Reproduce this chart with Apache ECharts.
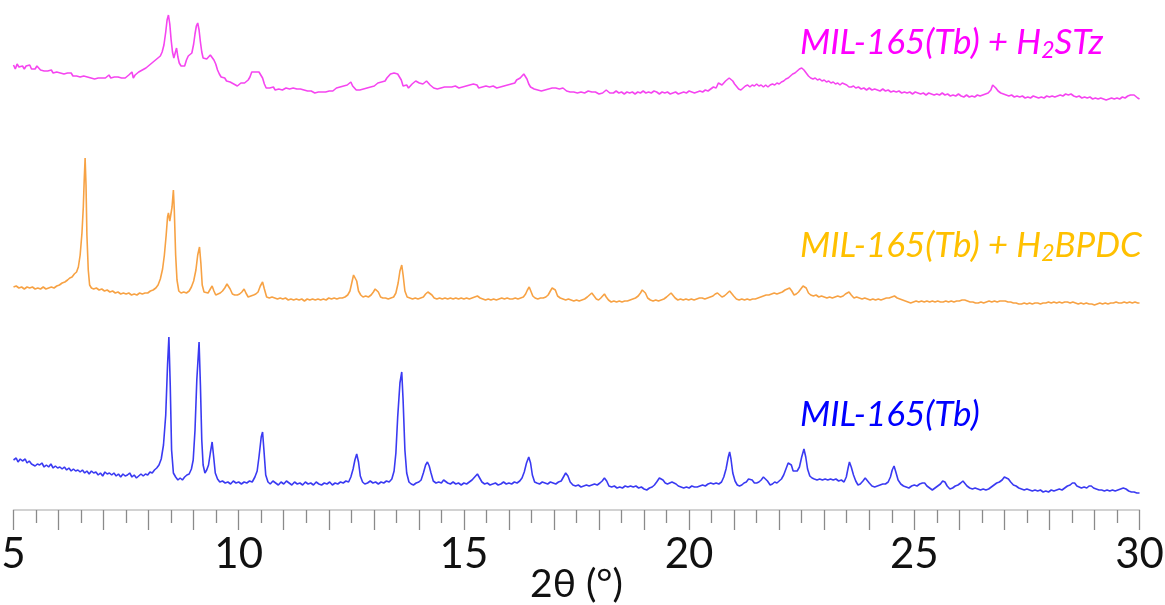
<!DOCTYPE html>
<html>
<head>
<meta charset="utf-8">
<script src="https://cdn.jsdelivr.net/npm/echarts@6/dist/echarts.min.js"></script>
<style>
  html, body { margin: 0; padding: 0; background: #fff; }
  #chart { width: 1165px; height: 605px; }
</style>
</head>
<body>
<div id="chart"></div>
<script>
// Powder XRD patterns: [2θ (°), intensity (a.u.)]
const tbPattern = [
  [5.00,35],[5.06,37],[5.10,33],[5.15,36],[5.20,34],[5.26,36],[5.30,32],[5.35,34],[5.40,31],[5.44,33],
  [5.48,29],[5.53,31],[5.58,30],[5.63,32],[5.68,28],[5.73,30],[5.78,28],[5.83,31],[5.88,27],[5.93,29],
  [5.98,27],[6.03,28],[6.08,26],[6.13,28],[6.18,25],[6.23,27],[6.28,24],[6.33,26],[6.38,24],[6.43,25],
  [6.48,23],[6.53,25],[6.58,22],[6.63,24],[6.68,21],[6.73,24],[6.78,22],[6.83,23],[6.88,20],[6.93,22],
  [6.98,19],[7.03,23],[7.08,21],[7.13,22],[7.18,20],[7.23,22],[7.28,19],[7.33,21],[7.38,18],[7.43,21],
  [7.48,19],[7.53,20],[7.58,22],[7.63,18],[7.68,20],[7.73,17],[7.78,19],[7.83,21],[7.88,19],[7.93,21],
  [7.98,20],[8.03,23],[8.08,22],[8.13,25],[8.18,27],[8.23,30],[8.28,36],[8.33,50],[8.38,80],[8.42,130],
  [8.45,158],[8.48,110],[8.51,45],[8.55,22],[8.60,18],[8.65,15],[8.70,17],[8.75,15],[8.80,18],[8.85,20],
  [8.90,21],[8.95,26],[8.99,35],[9.03,65],[9.07,115],[9.12,153],[9.15,110],[9.18,55],[9.21,30],[9.25,22],
  [9.29,25],[9.33,30],[9.37,42],[9.41,53],[9.44,40],[9.48,22],[9.53,16],[9.58,13],[9.64,14],[9.70,12],
  [9.76,13],[9.82,11],[9.88,14],[9.94,12],[10.00,13],[10.06,11],[10.12,13],[10.18,12],[10.24,14],[10.30,13],
  [10.36,18],[10.41,24],[10.45,38],[10.50,58],[10.53,63],[10.56,45],[10.60,20],[10.65,13],[10.70,11],[10.76,14],
  [10.82,12],[10.88,10],[10.94,13],[11.00,11],[11.06,14],[11.12,12],[11.18,10],[11.24,13],[11.30,11],[11.36,12],
  [11.42,10],[11.48,13],[11.54,11],[11.60,12],[11.66,10],[11.72,13],[11.78,11],[11.84,10],[11.90,12],[11.96,11],
  [12.02,13],[12.08,10],[12.14,12],[12.20,11],[12.26,13],[12.32,12],[12.38,14],[12.44,13],[12.49,18],[12.54,26],
  [12.58,35],[12.62,41],[12.66,33],[12.70,19],[12.75,13],[12.80,11],[12.86,12],[12.92,14],[12.98,12],[13.04,13],
  [13.10,11],[13.16,13],[13.22,12],[13.28,14],[13.34,13],[13.40,16],[13.45,24],[13.49,42],[13.53,78],[13.58,112],
  [13.62,123],[13.65,95],[13.69,45],[13.73,22],[13.78,13],[13.83,11],[13.88,10],[13.94,12],[14.00,13],[14.05,15],
  [14.10,22],[14.15,30],[14.19,33],[14.23,29],[14.27,22],[14.32,14],[14.38,12],[14.44,13],[14.50,12],[14.55,15],
  [14.59,17],[14.64,12],[14.70,11],[14.76,13],[14.82,11],[14.88,12],[14.94,10],[15.00,12],[15.06,11],[15.12,13],
  [15.18,15],[15.24,18],[15.30,21],[15.35,17],[15.40,13],[15.46,11],[15.52,12],[15.58,10],[15.64,11],[15.70,12],
  [15.76,10],[15.82,11],[15.88,13],[15.94,11],[16.00,12],[16.06,11],[16.12,13],[16.18,12],[16.24,14],[16.29,17],
  [16.34,23],[16.39,32],[16.44,38],[16.48,32],[16.52,20],[16.57,13],[16.62,12],[16.68,11],[16.74,13],[16.80,12],
  [16.86,11],[16.92,13],[16.98,12],[17.04,11],[17.10,13],[17.16,14],[17.21,18],[17.26,22],[17.31,19],[17.36,13],
  [17.42,10],[17.48,9],[17.54,10],[17.60,8],[17.66,9],[17.72,10],[17.78,9],[17.84,10],[17.90,11],[17.96,10],
  [18.02,12],[18.07,14],[18.12,17],[18.17,14],[18.22,9],[18.28,8],[18.34,9],[18.40,7],[18.46,8],[18.52,7],
  [18.58,9],[18.64,8],[18.70,9],[18.76,8],[18.82,9],[18.88,7],[18.94,8],[19.00,6],[19.06,5],[19.12,7],
  [19.18,8],[19.23,10],[19.28,13],[19.34,17],[19.38,18],[19.42,15],[19.47,12],[19.52,11],[19.57,12],[19.62,13],
  [19.66,14],[19.71,11],[19.76,9],[19.82,8],[19.88,7],[19.94,8],[20.00,7],[20.06,9],[20.12,8],[20.18,8],
  [20.24,9],[20.30,10],[20.36,9],[20.42,11],[20.48,12],[20.54,11],[20.60,12],[20.66,11],[20.72,13],[20.77,18],
  [20.82,26],[20.87,38],[20.90,43],[20.93,36],[20.97,22],[21.02,14],[21.07,10],[21.12,9],[21.17,10],[21.22,12],
  [21.27,13],[21.32,16],[21.36,18],[21.40,15],[21.45,12],[21.50,12],[21.55,13],[21.60,15],[21.65,18],[21.69,19],
  [21.74,14],[21.80,10],[21.85,11],[21.90,13],[21.95,12],[22.00,14],[22.05,16],[22.10,20],[22.15,26],[22.20,32],
  [22.23,34],[22.27,30],[22.31,24],[22.35,22],[22.40,24],[22.45,28],[22.50,38],[22.55,46],[22.59,38],[22.63,26],
  [22.68,19],[22.73,17],[22.78,16],[22.84,15],[22.90,16],[22.96,15],[23.02,16],[23.08,15],[23.14,16],[23.20,15],
  [23.26,16],[23.32,14],[23.38,15],[23.44,13],[23.49,18],[23.53,27],[23.56,33],[23.60,28],[23.65,20],[23.70,14],
  [23.75,10],[23.80,11],[23.86,14],[23.91,17],[23.95,16],[24.00,12],[24.06,9],[24.12,8],[24.18,9],[24.24,10],
  [24.30,11],[24.36,11],[24.42,13],[24.47,18],[24.51,25],[24.55,29],[24.59,23],[24.64,15],[24.70,11],[24.76,9],
  [24.82,8],[24.88,7],[24.94,9],[25.00,10],[25.06,9],[25.12,11],[25.18,12],[25.23,12],[25.28,9],[25.34,7],
  [25.40,5],[25.46,7],[25.52,9],[25.58,11],[25.63,14],[25.68,13],[25.73,9],[25.79,6],[25.85,7],[25.91,9],
  [25.97,10],[26.03,12],[26.08,14],[26.12,13],[26.17,9],[26.23,7],[26.29,6],[26.35,7],[26.41,6],[26.47,5],
  [26.53,6],[26.59,5],[26.65,6],[26.71,8],[26.77,10],[26.83,12],[26.89,13],[26.95,15],[27.00,18],[27.04,19],
  [27.09,16],[27.14,13],[27.20,10],[27.26,9],[27.32,7],[27.38,6],[27.44,5],[27.50,6],[27.56,5],[27.62,4],
  [27.68,5],[27.74,4],[27.80,5],[27.86,3],[27.92,4],[27.98,3],[28.04,5],[28.10,4],[28.16,5],[28.22,6],
  [28.28,5],[28.34,7],[28.40,9],[28.46,10],[28.51,12],[28.56,12],[28.61,9],[28.66,8],[28.71,7],[28.77,8],
  [28.83,7],[28.88,9],[28.93,9],[28.98,7],[29.04,6],[29.10,5],[29.16,5],[29.22,4],[29.28,5],[29.34,4],
  [29.40,5],[29.46,4],[29.52,5],[29.58,6],[29.64,7],[29.70,6],[29.76,4],[29.82,3],[29.88,3],[29.94,2],[30.00,2]
];

const bpdcPattern = [
  [5.00,18],[5.06,19],[5.12,17],[5.18,18],[5.24,16],[5.30,18],[5.36,17],[5.42,18],[5.48,16],[5.54,17],
  [5.60,16],[5.66,18],[5.72,16],[5.78,17],[5.84,18],[5.90,17],[5.96,19],[6.02,20],[6.08,22],[6.14,23],
  [6.20,25],[6.25,27],[6.30,28],[6.35,31],[6.40,33],[6.44,38],[6.48,50],[6.52,72],[6.55,98],[6.57,125],
  [6.59,147],[6.61,120],[6.63,70],[6.66,35],[6.69,20],[6.73,17],[6.78,16],[6.84,17],[6.90,15],[6.96,16],
  [7.02,14],[7.08,15],[7.14,13],[7.20,14],[7.26,12],[7.32,13],[7.38,11],[7.44,12],[7.50,11],[7.56,12],
  [7.62,10],[7.68,11],[7.74,10],[7.80,12],[7.86,11],[7.92,12],[7.98,12],[8.04,14],[8.10,15],[8.16,17],
  [8.21,20],[8.26,26],[8.31,36],[8.35,50],[8.39,70],[8.42,88],[8.44,92],[8.47,84],[8.49,82],[8.52,98],
  [8.55,115],[8.57,95],[8.60,50],[8.63,25],[8.67,14],[8.72,12],[8.78,13],[8.84,12],[8.90,14],[8.95,18],
  [9.00,24],[9.05,35],[9.09,50],[9.13,58],[9.16,42],[9.19,20],[9.23,13],[9.27,11],[9.32,12],[9.37,16],
  [9.41,19],[9.45,14],[9.49,10],[9.54,11],[9.59,12],[9.64,14],[9.69,17],[9.74,21],[9.77,22],[9.81,16],
  [9.86,11],[9.91,10],[9.97,10],[10.02,11],[10.07,13],[10.12,16],[10.16,12],[10.21,8],[10.27,9],[10.33,10],
  [10.38,11],[10.43,13],[10.48,19],[10.53,23],[10.57,16],[10.62,8],[10.68,7],[10.74,8],[10.80,7],[10.86,6],
  [10.92,7],[10.98,6],[11.04,7],[11.10,5],[11.16,6],[11.22,5],[11.28,6],[11.34,5],[11.40,6],[11.46,4],
  [11.52,6],[11.58,5],[11.64,6],[11.70,5],[11.76,6],[11.82,5],[11.88,6],[11.94,5],[12.00,7],[12.06,6],
  [12.12,7],[12.18,6],[12.24,7],[12.30,7],[12.36,8],[12.42,10],[12.47,14],[12.51,22],[12.55,30],[12.58,32],
  [12.62,24],[12.66,14],[12.71,10],[12.76,8],[12.82,9],[12.88,8],[12.94,10],[12.99,13],[13.03,16],[13.06,17],
  [13.10,13],[13.15,8],[13.20,7],[13.26,7],[13.32,6],[13.38,7],[13.44,8],[13.49,12],[13.54,22],[13.58,34],
  [13.62,40],[13.65,30],[13.69,14],[13.74,8],[13.80,7],[13.86,6],[13.92,7],[13.98,6],[14.04,7],[14.10,8],
  [14.15,11],[14.20,13],[14.24,13],[14.29,10],[14.34,7],[14.40,6],[14.46,7],[14.52,6],[14.58,7],[14.64,6],
  [14.70,7],[14.76,6],[14.82,7],[14.88,6],[14.94,7],[15.00,6],[15.06,7],[15.12,6],[15.18,7],[15.24,8],
  [15.30,9],[15.36,7],[15.42,6],[15.48,5],[15.54,6],[15.60,5],[15.66,6],[15.72,5],[15.78,6],[15.84,7],
  [15.90,6],[15.96,7],[16.02,6],[16.08,6],[16.14,7],[16.20,6],[16.26,7],[16.32,8],[16.37,11],[16.41,15],
  [16.45,18],[16.49,16],[16.53,9],[16.58,7],[16.64,6],[16.70,7],[16.76,7],[16.82,8],[16.87,10],[16.92,14],
  [16.96,17],[16.99,18],[17.03,15],[17.08,9],[17.14,7],[17.20,6],[17.26,5],[17.32,6],[17.38,5],[17.44,4],
  [17.50,5],[17.56,4],[17.62,5],[17.68,6],[17.74,8],[17.79,10],[17.84,12],[17.89,9],[17.94,6],[17.99,5],
  [18.04,7],[18.08,9],[18.12,11],[18.16,8],[18.21,5],[18.27,3],[18.33,4],[18.39,3],[18.45,4],[18.51,3],
  [18.57,4],[18.63,4],[18.69,5],[18.75,6],[18.81,7],[18.87,9],[18.92,12],[18.96,15],[18.99,15],[19.03,12],
  [19.08,7],[19.14,5],[19.20,4],[19.26,5],[19.32,4],[19.38,5],[19.44,6],[19.50,8],[19.55,10],[19.60,12],
  [19.64,10],[19.69,7],[19.75,5],[19.81,6],[19.87,5],[19.93,6],[19.99,5],[20.05,6],[20.11,5],[20.17,6],
  [20.23,7],[20.29,7],[20.35,6],[20.41,7],[20.47,8],[20.53,9],[20.58,11],[20.63,12],[20.68,10],[20.73,8],
  [20.78,9],[20.83,11],[20.87,13],[20.90,14],[20.94,12],[20.99,9],[21.05,6],[21.11,5],[21.17,6],[21.23,5],
  [21.29,6],[21.35,5],[21.41,6],[21.47,6],[21.53,7],[21.59,8],[21.65,9],[21.71,10],[21.77,10],[21.83,11],
  [21.89,12],[21.95,11],[22.01,12],[22.07,13],[22.13,15],[22.18,16],[22.23,17],[22.28,14],[22.33,10],[22.38,11],
  [22.43,13],[22.48,16],[22.53,19],[22.56,20],[22.60,17],[22.65,12],[22.70,10],[22.76,9],[22.82,10],[22.88,8],
  [22.94,9],[23.00,8],[23.06,7],[23.12,8],[23.18,7],[23.24,8],[23.30,9],[23.36,8],[23.42,9],[23.47,11],
  [23.51,13],[23.55,13],[23.60,10],[23.66,7],[23.72,8],[23.78,7],[23.84,6],[23.90,7],[23.96,6],[24.02,5],
  [24.08,6],[24.14,5],[24.20,6],[24.26,5],[24.32,6],[24.38,7],[24.44,7],[24.50,8],[24.56,9],[24.62,7],
  [24.68,6],[24.74,5],[24.80,4],[24.86,3],[24.92,2],[24.98,3],[25.04,4],[25.10,3],[25.16,4],[25.22,3],
  [25.28,4],[25.34,3],[25.40,4],[25.46,3],[25.52,4],[25.58,3],[25.64,3],[25.70,4],[25.76,3],[25.82,4],
  [25.88,3],[25.94,4],[26.00,4],[26.06,5],[26.12,5],[26.18,4],[26.24,3],[26.30,3],[26.36,2],[26.42,2],
  [26.48,3],[26.54,2],[26.60,3],[26.66,4],[26.72,3],[26.78,4],[26.84,3],[26.90,4],[26.96,4],[27.02,4],
  [27.08,3],[27.14,3],[27.20,2],[27.26,2],[27.32,1],[27.38,1],[27.44,2],[27.50,1],[27.56,2],[27.62,1],
  [27.68,2],[27.74,2],[27.80,1],[27.86,2],[27.92,2],[27.98,3],[28.04,2],[28.10,3],[28.16,2],[28.22,3],
  [28.28,2],[28.34,3],[28.40,3],[28.46,2],[28.52,3],[28.58,2],[28.64,1],[28.70,2],[28.76,1],[28.82,2],
  [28.88,1],[28.94,1],[29.00,0],[29.06,1],[29.12,2],[29.18,1],[29.24,2],[29.30,1],[29.36,2],[29.42,2],
  [29.48,3],[29.54,2],[29.60,2],[29.66,3],[29.72,2],[29.78,3],[29.84,2],[29.90,3],[29.96,2],[30.00,2]
];

const stzPattern = [
  [5.00,35],[5.04,31],[5.08,36],[5.12,33],[5.16,32],[5.20,34],[5.24,31],[5.28,34],[5.32,32],[5.36,35],
  [5.40,31],[5.44,33],[5.48,31],[5.52,34],[5.56,33],[5.60,30],[5.64,32],[5.68,29],[5.72,31],[5.76,29],
  [5.80,31],[5.84,30],[5.88,27],[5.92,29],[5.96,28],[6.00,30],[6.04,27],[6.08,29],[6.12,26],[6.16,28],
  [6.20,27],[6.24,25],[6.28,27],[6.32,24],[6.36,26],[6.40,24],[6.44,26],[6.48,23],[6.52,25],[6.56,24],
  [6.60,26],[6.64,23],[6.68,24],[6.72,22],[6.76,24],[6.80,21],[6.84,23],[6.88,22],[6.92,24],[6.96,22],
  [7.00,24],[7.04,22],[7.08,23],[7.12,25],[7.16,22],[7.20,24],[7.24,23],[7.28,25],[7.32,23],[7.36,24],
  [7.40,22],[7.44,24],[7.48,22],[7.52,23],[7.56,25],[7.60,26],[7.63,28],[7.66,22],[7.70,25],[7.74,26],
  [7.78,28],[7.82,27],[7.86,30],[7.90,29],[7.94,32],[7.98,33],[8.02,35],[8.06,34],[8.10,38],[8.14,37],
  [8.18,41],[8.22,40],[8.26,44],[8.30,48],[8.34,55],[8.38,68],[8.41,80],[8.44,85],[8.47,76],[8.50,60],
  [8.53,48],[8.56,42],[8.59,47],[8.62,52],[8.65,43],[8.68,37],[8.72,34],[8.76,36],[8.80,34],[8.84,40],
  [8.88,44],[8.92,42],[8.96,47],[9.00,56],[9.03,66],[9.06,74],[9.09,77],[9.12,70],[9.15,58],[9.18,48],
  [9.21,42],[9.25,40],[9.29,41],[9.33,43],[9.37,45],[9.41,43],[9.45,40],[9.49,36],[9.53,30],[9.57,26],
  [9.61,23],[9.65,21],[9.69,22],[9.73,19],[9.77,21],[9.81,18],[9.85,20],[9.89,16],[9.93,17],[9.97,14],
  [10.01,12],[10.05,17],[10.09,18],[10.13,17],[10.17,19],[10.21,20],[10.25,23],[10.29,28],[10.33,27],[10.37,28],
  [10.41,26],[10.45,28],[10.49,25],[10.53,22],[10.57,16],[10.61,12],[10.65,10],[10.69,12],[10.73,11],[10.77,13],
  [10.81,10],[10.85,12],[10.89,11],[10.93,12],[10.97,10],[11.01,11],[11.05,12],[11.09,10],[11.13,11],[11.17,9],
  [11.21,12],[11.25,10],[11.29,11],[11.33,10],[11.37,11],[11.41,9],[11.45,10],[11.49,8],[11.53,9],[11.57,7],
  [11.61,9],[11.65,8],[11.69,7],[11.73,9],[11.77,8],[11.81,10],[11.85,8],[11.89,9],[11.93,8],[11.97,10],
  [12.01,9],[12.05,11],[12.09,9],[12.13,10],[12.17,12],[12.21,11],[12.25,13],[12.29,12],[12.33,14],[12.37,13],
  [12.41,15],[12.45,16],[12.49,18],[12.53,14],[12.57,12],[12.61,10],[12.65,11],[12.69,10],[12.73,12],[12.77,11],
  [12.81,13],[12.85,12],[12.89,14],[12.93,13],[12.97,15],[13.01,14],[13.05,16],[13.09,17],[13.13,16],[13.17,18],
  [13.21,20],[13.25,19],[13.29,22],[13.33,24],[13.37,26],[13.41,28],[13.45,27],[13.49,28],[13.53,26],[13.57,25],
  [13.61,20],[13.65,14],[13.69,13],[13.73,15],[13.77,12],[13.81,13],[13.85,16],[13.89,18],[13.93,19],[13.97,20],
  [14.01,17],[14.05,18],[14.09,16],[14.13,17],[14.17,19],[14.21,17],[14.25,15],[14.29,14],[14.33,12],[14.37,13],
  [14.41,11],[14.45,13],[14.49,12],[14.53,11],[14.57,13],[14.61,12],[14.65,13],[14.69,11],[14.73,13],[14.77,12],
  [14.81,14],[14.85,13],[14.89,12],[14.93,14],[14.97,13],[15.01,15],[15.05,14],[15.09,16],[15.13,15],[15.17,17],
  [15.21,16],[15.25,18],[15.29,15],[15.33,12],[15.37,11],[15.41,13],[15.45,12],[15.49,14],[15.53,12],[15.57,13],
  [15.61,12],[15.65,14],[15.69,13],[15.73,12],[15.77,14],[15.81,13],[15.85,15],[15.89,14],[15.93,16],[15.97,15],
  [16.01,17],[16.05,16],[16.09,18],[16.13,17],[16.17,20],[16.21,21],[16.25,22],[16.29,24],[16.33,26],[16.36,27],
  [16.40,21],[16.44,16],[16.48,13],[16.52,12],[16.56,11],[16.60,12],[16.64,10],[16.68,11],[16.72,9],[16.76,8],
  [16.80,10],[16.84,9],[16.88,11],[16.92,10],[16.96,12],[17.00,11],[17.04,12],[17.08,10],[17.12,11],[17.16,13],
  [17.20,12],[17.24,10],[17.28,9],[17.32,11],[17.36,8],[17.40,9],[17.44,8],[17.48,9],[17.52,7],[17.56,9],
  [17.60,8],[17.64,9],[17.68,7],[17.72,8],[17.76,9],[17.80,7],[17.84,8],[17.88,6],[17.92,8],[17.96,7],
  [18.00,6],[18.04,5],[18.08,7],[18.12,8],[18.16,10],[18.20,9],[18.24,7],[18.28,8],[18.32,7],[18.38,9],
  [18.44,7],[18.50,8],[18.56,6],[18.62,8],[18.68,7],[18.74,8],[18.80,6],[18.86,8],[18.92,7],[18.98,9],
  [19.04,7],[19.10,8],[19.16,7],[19.22,9],[19.28,8],[19.34,6],[19.40,8],[19.46,7],[19.52,8],[19.58,6],
  [19.64,7],[19.70,8],[19.76,6],[19.82,7],[19.88,8],[19.94,7],[20.00,9],[20.06,8],[20.12,7],[20.18,8],
  [20.24,9],[20.30,8],[20.36,10],[20.42,9],[20.48,11],[20.54,13],[20.60,12],[20.65,17],[20.69,18],[20.73,15],
  [20.77,17],[20.81,19],[20.85,20],[20.89,22],[20.93,22],[20.97,19],[21.01,16],[21.05,14],[21.10,11],[21.15,10],
  [21.20,12],[21.25,14],[21.30,15],[21.35,13],[21.40,15],[21.45,14],[21.50,16],[21.55,14],[21.60,15],[21.65,13],
  [21.70,15],[21.75,13],[21.80,15],[21.85,16],[21.90,15],[21.95,17],[22.00,16],[22.05,18],[22.10,19],[22.15,21],
  [22.20,22],[22.25,24],[22.30,26],[22.35,27],[22.40,29],[22.45,31],[22.50,32],[22.55,30],[22.60,27],[22.65,24],
  [22.70,22],[22.75,21],[22.80,22],[22.85,20],[22.90,21],[22.95,19],[23.00,20],[23.05,18],[23.10,19],[23.15,17],
  [23.20,18],[23.25,16],[23.30,17],[23.35,15],[23.40,17],[23.45,16],[23.50,15],[23.55,13],[23.60,13],[23.65,14],
  [23.70,12],[23.76,13],[23.82,11],[23.88,12],[23.94,10],[24.00,12],[24.06,10],[24.12,11],[24.18,10],[24.24,9],
  [24.30,11],[24.36,9],[24.42,10],[24.48,8],[24.54,9],[24.60,8],[24.66,9],[24.72,7],[24.78,8],[24.84,7],
  [24.90,8],[24.96,6],[25.02,8],[25.08,7],[25.14,6],[25.20,7],[25.26,5],[25.32,7],[25.38,6],[25.44,5],
  [25.50,6],[25.56,5],[25.62,7],[25.68,5],[25.74,6],[25.80,4],[25.86,5],[25.92,4],[25.98,6],[26.04,4],
  [26.10,3],[26.16,5],[26.22,3],[26.28,4],[26.34,3],[26.40,5],[26.46,4],[26.52,5],[26.58,6],[26.64,7],
  [26.70,10],[26.74,15],[26.77,17],[26.81,12],[26.86,9],[26.92,7],[26.98,6],[27.04,5],[27.10,4],[27.16,5],
  [27.22,3],[27.28,4],[27.34,3],[27.40,4],[27.46,2],[27.52,3],[27.58,2],[27.64,4],[27.70,3],[27.76,2],
  [27.82,3],[27.88,2],[27.94,4],[28.00,3],[28.06,4],[28.12,3],[28.18,4],[28.24,5],[28.30,4],[28.36,6],
  [28.42,5],[28.48,6],[28.54,4],[28.60,3],[28.66,4],[28.72,2],[28.78,3],[28.84,2],[28.90,3],[28.96,1],
  [29.02,2],[29.08,1],[29.14,2],[29.20,1],[29.26,0],[29.32,1],[29.38,2],[29.44,1],[29.50,2],[29.56,1],
  [29.62,3],[29.68,2],[29.74,4],[29.80,5],[29.84,4],[29.88,5],[29.92,3],[29.96,2],[30.00,1]
];

const xTickLabels = [5, 10, 15, 20, 25, 30];
const axisTitle = '2θ (°)';

// vertical stacking of the three patterns (a.u.)
const stackOffset = { tb: 15, bpdc: 205, stz: 410 };

const shift = (pts, off) => pts.map(p => [p[0], p[1] + off]);

const chart = echarts.init(document.getElementById('chart'), null, { renderer: 'canvas' });

const labelFont = 'Lato, "Open Sans", sans-serif';

const seriesLabel = (color, main, sub, tail) => ({
  text: sub ? '{m|' + main + '}{s|' + sub + '}{m|' + tail + '}' : '{m|' + main + '}',
  rich: {
    m: { fontFamily: labelFont, fontStyle: 'italic', fontSize: 35, fill: color, color: color },
    s: { fontFamily: labelFont, fontStyle: 'italic', fontSize: 23, fill: color, color: color, padding: [16, 0, 0, 0] }
  }
});

chart.setOption({
  animation: false,
  backgroundColor: '#ffffff',
  grid: { left: 13.5, right: 25.5, top: 0, bottom: 95, containLabel: false, outerBoundsMode: 'none' },
  xAxis: {
    type: 'value',
    min: 5, max: 30, interval: 1,
    name: axisTitle,
    nameLocation: 'middle',
    nameGap: 55,
    nameMoveOverlap: false,
    nameTextStyle: { fontFamily: labelFont, fontSize: 39, color: '#111' },
    axisLine: { show: true, lineStyle: { color: '#c4c4c4', width: 1.5 } },
    axisTick: { show: true, inside: false, length: 20, lineStyle: { color: '#8a8a8a', width: 1.3 } },
    minorTick: { show: true, splitNumber: 2, length: 13, lineStyle: { color: '#8a8a8a', width: 1.3 } },
    axisLabel: {
      margin: 23,
      fontFamily: labelFont, fontSize: 42, color: '#111',
      formatter: v => (xTickLabels.indexOf(v) >= 0 ? String(v) : '')
    },
    splitLine: { show: false },
    minorSplitLine: { show: false }
  },
  yAxis: {
    type: 'value', min: 0, max: 510,
    show: false,
    splitLine: { show: false }
  },
  series: [
    {
      name: 'MIL-165(Tb)', type: 'line', showSymbol: false, symbol: 'none',
      data: shift(tbPattern, stackOffset.tb),
      lineStyle: { color: '#3a3af2', width: 1.6 }
    },
    {
      name: 'MIL-165(Tb) + H2BPDC', type: 'line', showSymbol: false, symbol: 'none',
      data: shift(bpdcPattern, stackOffset.bpdc),
      lineStyle: { color: '#f7a244', width: 1.6 }
    },
    {
      name: 'MIL-165(Tb) + H2STz', type: 'line', showSymbol: false, symbol: 'none',
      data: shift(stzPattern, stackOffset.stz),
      lineStyle: { color: '#f545f0', width: 1.6 }
    }
  ],
  graphic: [
    { type: 'text', left: 800, top: 25, style: seriesLabel('#ff00ff', 'MIL-165(Tb) + H', '2', 'STz') },
    { type: 'text', left: 800, top: 228, style: seriesLabel('#ffc000', 'MIL-165(Tb) + H', '2', 'BPDC') },
    { type: 'text', left: 800, top: 397, style: seriesLabel('#0000ff', 'MIL-165(Tb)') }
  ]
});
</script>
</body>
</html>
